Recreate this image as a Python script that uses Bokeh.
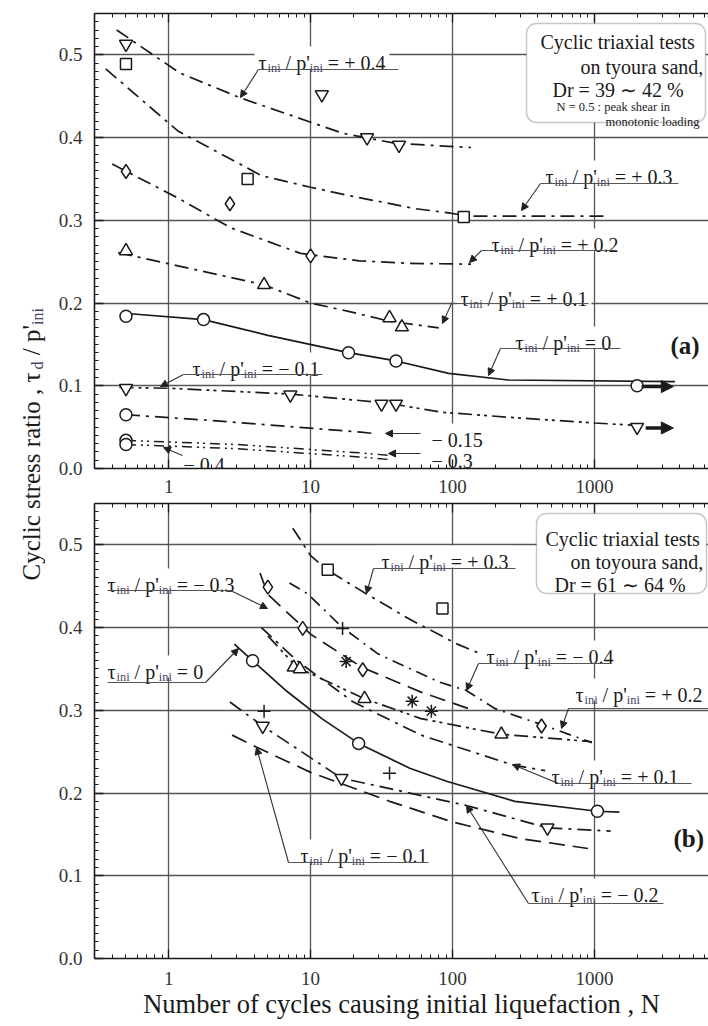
import math
from bokeh.plotting import figure
from bokeh.layouts import row, column
from bokeh.models import (ColumnDataSource, Range1d, LinearAxis, LogAxis, FixedTicker, Grid,
                          PrintfTickFormatter, CustomJSTickFormatter, Arrow, NormalHead,
                          BoxAnnotation)
from bokeh.core.properties import value
from bokeh.embed import file_html
from bokeh.resources import INLINE

FONT = "Liberation Serif"
INK = "#1a1a1a"
SUBC = "#4a4266"
GRID = "#555555"

# ---------------- data : panel (a)  Dr = 39~42 % ----------------
a_p04_N = [0.5, 12, 25, 42]
a_p04_y = [0.513, 0.452, 0.400, 0.391]
a_p03_N = [0.5, 3.6, 120]
a_p03_y = [0.489, 0.350, 0.304]
a_p02_N = [0.5, 2.7, 10]
a_p02_y = [0.359, 0.320, 0.257]
a_p01_N = [0.5, 4.7, 36, 44]
a_p01_y = [0.263, 0.222, 0.182, 0.171]
a_0_N = [0.5, 1.76, 18.5, 40, 2000]
a_0_y = [0.184, 0.180, 0.140, 0.130, 0.100]
a_m01_N = [0.5, 7.2, 31.6, 40, 2000]
a_m01_y = [0.097, 0.089, 0.078, 0.078, 0.050]
a_m015_N = [0.5]
a_m015_y = [0.065]
a_m034_N = [0.5, 0.5]
a_m034_y = [0.034, 0.029]

# fitted curves (a)
ca_p04_N = [0.43, 1.2, 3.2, 17, 40, 135]
ca_p04_y = [0.530, 0.478, 0.448, 0.405, 0.393, 0.388]
ca_p03_N = [0.36, 1.16, 3.1, 4.5, 10, 18.5, 55, 94, 130, 1200]
ca_p03_y = [0.483, 0.408, 0.369, 0.354, 0.340, 0.330, 0.314, 0.309, 0.305, 0.305]
ca_p02_N = [0.40, 1.16, 2.73, 8.5, 22, 50, 135]
ca_p02_y = [0.368, 0.327, 0.291, 0.260, 0.251, 0.248, 0.247]
ca_p01_N = [0.44, 1.16, 4.7, 10, 18.5, 36, 80]
ca_p01_y = [0.261, 0.245, 0.222, 0.200, 0.190, 0.178, 0.170]
ca_0_N = [0.46, 1.76, 5, 18.5, 40, 94, 247, 3700]
ca_0_y = [0.188, 0.180, 0.161, 0.140, 0.130, 0.115, 0.107, 0.105]
ca_m01_N = [0.45, 1, 7.2, 35, 84, 247, 1000, 2000]
ca_m01_y = [0.098, 0.097, 0.090, 0.079, 0.068, 0.062, 0.055, 0.052]
ca_m015_N = [0.5, 2, 8, 22.6, 29]
ca_m015_y = [0.065, 0.058, 0.050, 0.044, 0.042]
ca_m03_N = [0.5, 3, 10, 22, 35]
ca_m03_y = [0.034, 0.029, 0.023, 0.019, 0.016]
ca_m04_N = [0.5, 3, 10, 22, 35]
ca_m04_y = [0.029, 0.024, 0.018, 0.014, 0.011]
# "no liquefaction" arrows (a)
arr_N0 = [2150, 2300]
arr_N1 = [3600, 3600]
arr_y = [0.099, 0.049]

# ---------------- data : panel (b)  Dr = 61~64 % ----------------
b_sq_N = [13.2, 85]
b_sq_y = [0.470, 0.423]
b_dia_N = [5.0, 8.8, 23.3, 424]
b_dia_y = [0.449, 0.399, 0.349, 0.281]
b_cross_N = [16.8, 4.7, 36]
b_cross_y = [0.399, 0.299, 0.224]
b_ast_N = [17.8, 52, 71]
b_ast_y = [0.359, 0.311, 0.299]
b_tri_N = [7.6, 8.4, 24, 221]
b_tri_y = [0.352, 0.350, 0.314, 0.271]
b_circ_N = [3.9, 21.8, 1050]
b_circ_y = [0.360, 0.260, 0.178]
b_inv_N = [4.6, 16.5, 467]
b_inv_y = [0.281, 0.218, 0.158]

cb_p03_N = [7.5, 10, 13, 24.6, 50, 108, 150]
cb_p03_y = [0.520, 0.487, 0.470, 0.441, 0.410, 0.380, 0.370]
cb_m03_N = [4.4, 5, 10, 23, 60, 130]
cb_m03_y = [0.466, 0.440, 0.392, 0.352, 0.322, 0.302]
cb_m04_N = [7.1, 9.5, 16.8, 30, 81, 125, 200, 420, 960]
cb_m04_y = [0.454, 0.441, 0.400, 0.368, 0.334, 0.324, 0.302, 0.283, 0.261]
cb_p02_N = [5, 8, 24, 60, 221, 600, 960]
cb_p02_y = [0.390, 0.352, 0.314, 0.290, 0.271, 0.265, 0.262]
cb_p01_N = [4.5, 8, 20, 60, 265, 450]
cb_p01_y = [0.400, 0.360, 0.310, 0.270, 0.234, 0.227]
cb_0_N = [2.9, 3.9, 6.8, 12, 21.8, 50, 92, 275, 1050, 1500]
cb_0_y = [0.380, 0.360, 0.323, 0.290, 0.260, 0.230, 0.214, 0.190, 0.178, 0.177]
cb_m02_N = [2.7, 4.6, 16.5, 50, 125, 467, 1300]
cb_m02_y = [0.310, 0.281, 0.218, 0.200, 0.185, 0.158, 0.154]
cb_m01_N = [2.8, 4.1, 10, 36, 100, 300, 900]
cb_m01_y = [0.270, 0.256, 0.225, 0.190, 0.165, 0.145, 0.133]

y_ticks = [0.0, 0.1, 0.2, 0.3, 0.4, 0.5]
x_ticks = [1, 10, 100, 1000]

# ---------------- geometry (page px == reference px) ----------------
LW = 48                     # width of the y-title column
FL, FR = 94, 708            # frame left / right
X0 = 0.3
DEC = 141.9                 # px per decade
X1 = X0 * 10 ** ((FR - FL) / DEC)
TOP_H = 501
BOT_H = 525


def xd(px):
    return 10 ** (math.log10(X0) + (px - FL) / DEC)


def yd_a(py):
    return (468 - py) / 455 * 0.55


def yd_b(py):
    return (958 - py) / 455 * 0.55


WID = {' ': 0.25, '/': 0.278, 'p': 0.5, "'": 0.18, '=': 0.564, '+': 0.564, '−': 0.564,
       '.': 0.25, 'i': 0.278, 'n': 0.5, 'τ': 0.45, 'd': 0.5}


def tw(s, size):
    return sum(WID.get(c, 0.5) for c in s) * size


def make_panel(height, top_border, bottom_border, show_title):
    p = figure(width=FR - LW, height=height, x_axis_type="log",
               x_axis_location=None, y_axis_location=None,
               x_range=Range1d(X0, X1), y_range=Range1d(0, 0.55),
               output_backend="svg", toolbar_location=None,
               min_border_left=FL - LW, min_border_right=0,
               min_border_top=top_border, min_border_bottom=bottom_border,
               outline_line_color=None, background_fill_color="white")
    minor_x = [k * 10 ** e for e in range(-1, 4) for k in range(2, 10) if X0 <= k * 10 ** e <= X1]
    xt = FixedTicker(ticks=x_ticks, minor_ticks=minor_x)
    yt = FixedTicker(ticks=y_ticks, minor_ticks=[i / 100 for i in range(0, 56)])
    p.add_layout(Grid(dimension=0, ticker=FixedTicker(ticks=x_ticks),
                      grid_line_color=GRID, grid_line_width=1.3))
    p.add_layout(Grid(dimension=1, ticker=FixedTicker(ticks=y_ticks[1:]),
                      grid_line_color=GRID, grid_line_width=1.3))
    bottom = LogAxis(ticker=xt, formatter=PrintfTickFormatter(format="%d"))
    top = LogAxis(ticker=xt, formatter=CustomJSTickFormatter(code="return ''"),
                  major_label_standoff=0)
    left = LinearAxis(ticker=yt, formatter=PrintfTickFormatter(format="%.1f"))
    p.add_layout(bottom, "below")
    p.add_layout(top, "above")
    p.add_layout(left, "left")
    for ax in [bottom, top, left]:
        ax.major_tick_in = 9
        ax.major_tick_out = 0
        ax.minor_tick_in = 4
        ax.minor_tick_out = 0
        ax.axis_line_width = 1.6
        ax.axis_line_color = INK
        ax.major_tick_line_color = INK
        ax.minor_tick_line_color = INK
        ax.major_tick_line_width = 1.3
        ax.minor_tick_line_width = 1.0
        ax.major_label_text_font = FONT
        ax.major_label_text_color = "#333333"
        ax.major_label_text_font_size = "19px"
    left.major_label_standoff = 12
    bottom.major_label_standoff = 13 if show_title else 11
    if show_title:
        bottom.axis_label = "Number of cycles causing initial liquefaction , N"
        bottom.axis_label_text_font = FONT
        bottom.axis_label_text_font_size = "26.5px"
        bottom.axis_label_text_font_style = "normal"
        bottom.axis_label_text_color = INK
        bottom.axis_label_standoff = 1
    return p


def white_box(p, yconv, x0, x1, y0, y1):
    p.add_layout(BoxAnnotation(left=xd(x0), right=xd(x1), top=yconv(y0), bottom=yconv(y1),
                               fill_color="white", fill_alpha=1.0, line_color=None,
                               level="underlay"))


def rich(p, yconv, px, py, pieces, size=20, sub=0.62, color=INK, bg=True, style="normal"):
    xs, ys, txt, sz, cols = [], [], [], [], []
    cx = px
    for s, is_sub in pieces:
        fs = size * sub if is_sub else size
        lead = len(s) - len(s.lstrip(" "))
        cx += lead * 0.25 * fs
        s2 = s.strip(" ")
        xs.append(xd(cx))
        ys.append(yconv(py + (5 if is_sub else 0)))
        txt.append(s2)
        sz.append("%.1fpx" % fs)
        cols.append(SUBC if is_sub else color)
        cx += tw(s2, fs)
    if bg:
        white_box(p, yconv, px - 4, cx + 4, py - size * 0.8, py + 6)
    src = ColumnDataSource(dict(x=xs, y=ys, text=txt, size=sz, col=cols))
    p.text(x="x", y="y", text="text", source=src, text_font=value(FONT),
           text_font_size="size", text_baseline="alphabetic", text_align="left",
           text_color="col", text_font_style=style)
    return cx


def tau_label(p, yconv, px, py, rhs, size=20):
    return rich(p, yconv, px, py, [("τ", 0), ("ini", 1), (" / p'", 0), ("ini", 1), (rhs, 0)], size)


HEAD = dict(size=7, fill_color="#222222", line_color="#222222")


def leader(p, yconv, ux0, ux1, uy, tipx, tipy, startx=None):
    p.line([xd(ux0), xd(ux1)], [yconv(uy), yconv(uy)], line_color="#555555", line_width=1.2)
    sx = ux0 if startx is None else startx
    p.add_layout(Arrow(x_start=xd(sx), y_start=yconv(uy), x_end=xd(tipx), y_end=yconv(tipy),
                       line_color="#333333", line_width=1.1, end=NormalHead(**HEAD)))


def pointer(p, yconv, x0, y0, x1, y1):
    p.add_layout(Arrow(x_start=xd(x0), y_start=yconv(y0), x_end=xd(x1), y_end=yconv(y1),
                       line_color="#333333", line_width=1.1, end=NormalHead(**HEAD)))


def curve(p, N, y, dash="solid", w=1.7):
    p.line(N, y, line_color=INK, line_width=w, line_dash=dash)


def marks(p, N, y, marker, size=12):
    p.scatter(N, y, marker=marker, size=size, fill_color="white", line_color=INK,
              line_width=1.5)


DASHDOT = "14 6 3 6"
DASHDOT2 = "14 5 3 4 3 5"
LONGDASH = "16 8"

# ================= panel (a) =================
pa = make_panel(TOP_H, 13, TOP_H - 13 - 455, False)

pa.add_layout(BoxAnnotation(left=xd(526), right=xd(705), top=yd_a(23), bottom=yd_a(122),
                            fill_color="white", fill_alpha=1.0, line_color="#444444",
                            line_width=1.5, border_radius=10, level="underlay"))

curve(pa, ca_p04_N, ca_p04_y, DASHDOT)
curve(pa, ca_p03_N, ca_p03_y, DASHDOT)
curve(pa, ca_p02_N, ca_p02_y, DASHDOT)
curve(pa, ca_p01_N, ca_p01_y, DASHDOT)
curve(pa, ca_0_N, ca_0_y, "solid")
curve(pa, ca_m01_N, ca_m01_y, DASHDOT2)
curve(pa, ca_m015_N, ca_m015_y, DASHDOT)
curve(pa, ca_m03_N, ca_m03_y, "10 5 2 4 2 5", 1.5)
curve(pa, ca_m04_N, ca_m04_y, "10 5 2 4 2 5", 1.5)

marks(pa, a_p04_N, a_p04_y, "inverted_triangle", 13)
marks(pa, a_p03_N, a_p03_y, "square", 11)
marks(pa, a_p02_N, a_p02_y, "diamond", 14)
marks(pa, a_p01_N, a_p01_y, "triangle", 13)
marks(pa, a_0_N, a_0_y, "circle", 12)
marks(pa, a_m01_N, a_m01_y, "inverted_triangle", 13)
marks(pa, a_m015_N, a_m015_y, "circle", 12)
marks(pa, a_m034_N, a_m034_y, "circle", 12)

for n0, n1, yy in zip(arr_N0, arr_N1, arr_y):
    pa.add_layout(Arrow(x_start=n0, y_start=yy, x_end=n1, y_end=yy, line_color=INK,
                        line_width=3.5,
                        end=NormalHead(size=12, fill_color=INK, line_color=INK)))

tau_label(pa, yd_a, 258, 62, " = + 0.4")
leader(pa, yd_a, 258, 398, 69, 240, 97)
tau_label(pa, yd_a, 545, 176, " = + 0.3")
leader(pa, yd_a, 540, 678, 183, 521, 210)
tau_label(pa, yd_a, 491, 244, " = + 0.2")
leader(pa, yd_a, 481, 616, 250, 469, 262)
tau_label(pa, yd_a, 460, 298, " = + 0.1")
leader(pa, yd_a, 451, 588, 303, 442, 323)
tau_label(pa, yd_a, 515, 342, " = 0")
leader(pa, yd_a, 500, 620, 348, 488, 375)
tau_label(pa, yd_a, 192, 368, " = − 0.1")
leader(pa, yd_a, 183, 322, 374, 160, 386)

rich(pa, yd_a, 431, 439, [("− 0.15", 0)], 20)
pointer(pa, yd_a, 420, 433, 385, 433)
rich(pa, yd_a, 431, 460, [("− 0.3", 0)], 20)
pointer(pa, yd_a, 420, 453, 388, 453)
rich(pa, yd_a, 183, 464, [("− 0.4", 0)], 20)
pointer(pa, yd_a, 182, 455, 163, 447)

rich(pa, yd_a, 670, 345, [("(a)", 0)], 25, bg=False, style="bold")

rich(pa, yd_a, 540, 41, [("Cyclic triaxial tests", 0)], 20, bg=False)
rich(pa, yd_a, 580, 66, [("on tyoura sand,", 0)], 20, bg=False)
rich(pa, yd_a, 552, 89, [("Dr = 39 ∼ 42 %", 0)], 20, bg=False)
rich(pa, yd_a, 556, 106, [("N = 0.5 : peak shear in", 0)], 12.5, bg=False)
rich(pa, yd_a, 605, 121, [("monotonic loading", 0)], 12.5, bg=False)

# ================= panel (b) =================
pb = make_panel(BOT_H, 503 - TOP_H, BOT_H - (503 - TOP_H) - 455, True)
pb.add_layout(BoxAnnotation(left=xd(536), right=xd(706), top=yd_b(513), bottom=yd_b(593),
                            fill_color="white", fill_alpha=1.0, line_color="#444444",
                            line_width=1.5, border_radius=10, level="underlay"))

curve(pb, cb_p03_N, cb_p03_y, DASHDOT)
curve(pb, cb_m03_N, cb_m03_y, LONGDASH)
curve(pb, cb_m04_N, cb_m04_y, "12 6 2 6")
curve(pb, cb_p02_N, cb_p02_y, DASHDOT2)
curve(pb, cb_p01_N, cb_p01_y, DASHDOT)
curve(pb, cb_0_N, cb_0_y, "solid")
curve(pb, cb_m02_N, cb_m02_y, DASHDOT)
curve(pb, cb_m01_N, cb_m01_y, LONGDASH)

marks(pb, b_sq_N, b_sq_y, "square", 11)
marks(pb, b_dia_N, b_dia_y, "diamond", 14)
marks(pb, b_cross_N, b_cross_y, "cross", 13)
marks(pb, b_ast_N, b_ast_y, "asterisk", 13)
marks(pb, b_tri_N, b_tri_y, "triangle", 13)
marks(pb, b_circ_N, b_circ_y, "circle", 12)
marks(pb, b_inv_N, b_inv_y, "inverted_triangle", 13)

tau_label(pb, yd_b, 381, 561, " = + 0.3")
leader(pb, yd_b, 373, 515, 568, 366, 593)
tau_label(pb, yd_b, 107, 584, " = − 0.3")
leader(pb, yd_b, 107, 230, 590, 267, 608, startx=230)
tau_label(pb, yd_b, 107, 671, " = 0")
leader(pb, yd_b, 107, 205, 682, 238, 648, startx=205)
tau_label(pb, yd_b, 486, 656, " = − 0.4")
leader(pb, yd_b, 478, 611, 663, 466, 690)
tau_label(pb, yd_b, 575, 694, " = + 0.2")
leader(pb, yd_b, 568, 708, 708, 561, 728)
tau_label(pb, yd_b, 551, 776, " = + 0.1")
leader(pb, yd_b, 558, 691, 783, 512, 764)
tau_label(pb, yd_b, 300, 855, " = − 0.1")
leader(pb, yd_b, 288, 428, 862, 256, 747)
tau_label(pb, yd_b, 531, 894, " = − 0.2")
leader(pb, yd_b, 528, 663, 903, 466, 805)

rich(pb, yd_b, 545, 538, [("Cyclic triaxial tests", 0)], 20, bg=False)
rich(pb, yd_b, 570, 561, [("on toyoura sand,", 0)], 20, bg=False)
rich(pb, yd_b, 554, 584, [("Dr = 61 ∼ 64 %", 0)], 20, bg=False)
rich(pb, yd_b, 673, 838, [("(b)", 0)], 25, bg=False, style="bold")

# ================= y-axis title column =================
H = TOP_H + BOT_H
pl = figure(width=LW, height=H, x_range=Range1d(0, LW), y_range=Range1d(0, H),
            x_axis_location=None, y_axis_location=None,
            output_backend="svg", toolbar_location=None, min_border=0,
            outline_line_color=None)
pl.grid.visible = False
ybase = H - 580
xb = 31
main = "Cyclic stress ratio , τ"
pieces = [(main, 25, 0, INK), ("d", 16, 6, SUBC), ("/ p'", 25, 0, INK), ("ini", 16, 6, SUBC)]
adv = [211, 8 + 0.25 * 25, (0.278 + 0.25 + 0.5 + 0.18) * 25, 0]
lx, ly, lt, ls, lc = [], [], [], [], []
cy = ybase
for (s, fs, dx, c), a in zip(pieces, adv):
    lx.append(xb + dx)
    ly.append(cy)
    lt.append(s)
    ls.append("%dpx" % fs)
    lc.append(c)
    cy += a
pl.text(x="x", y="y", text="text", text_font_size="size", text_color="col",
        source=ColumnDataSource(dict(x=lx, y=ly, text=lt, size=ls, col=lc)),
        text_font=value(FONT), angle=math.pi / 2, text_baseline="alphabetic",
        text_align="left")

layout = row(pl, column(pa, pb))
open("out.html", "w").write(file_html(layout, INLINE))
